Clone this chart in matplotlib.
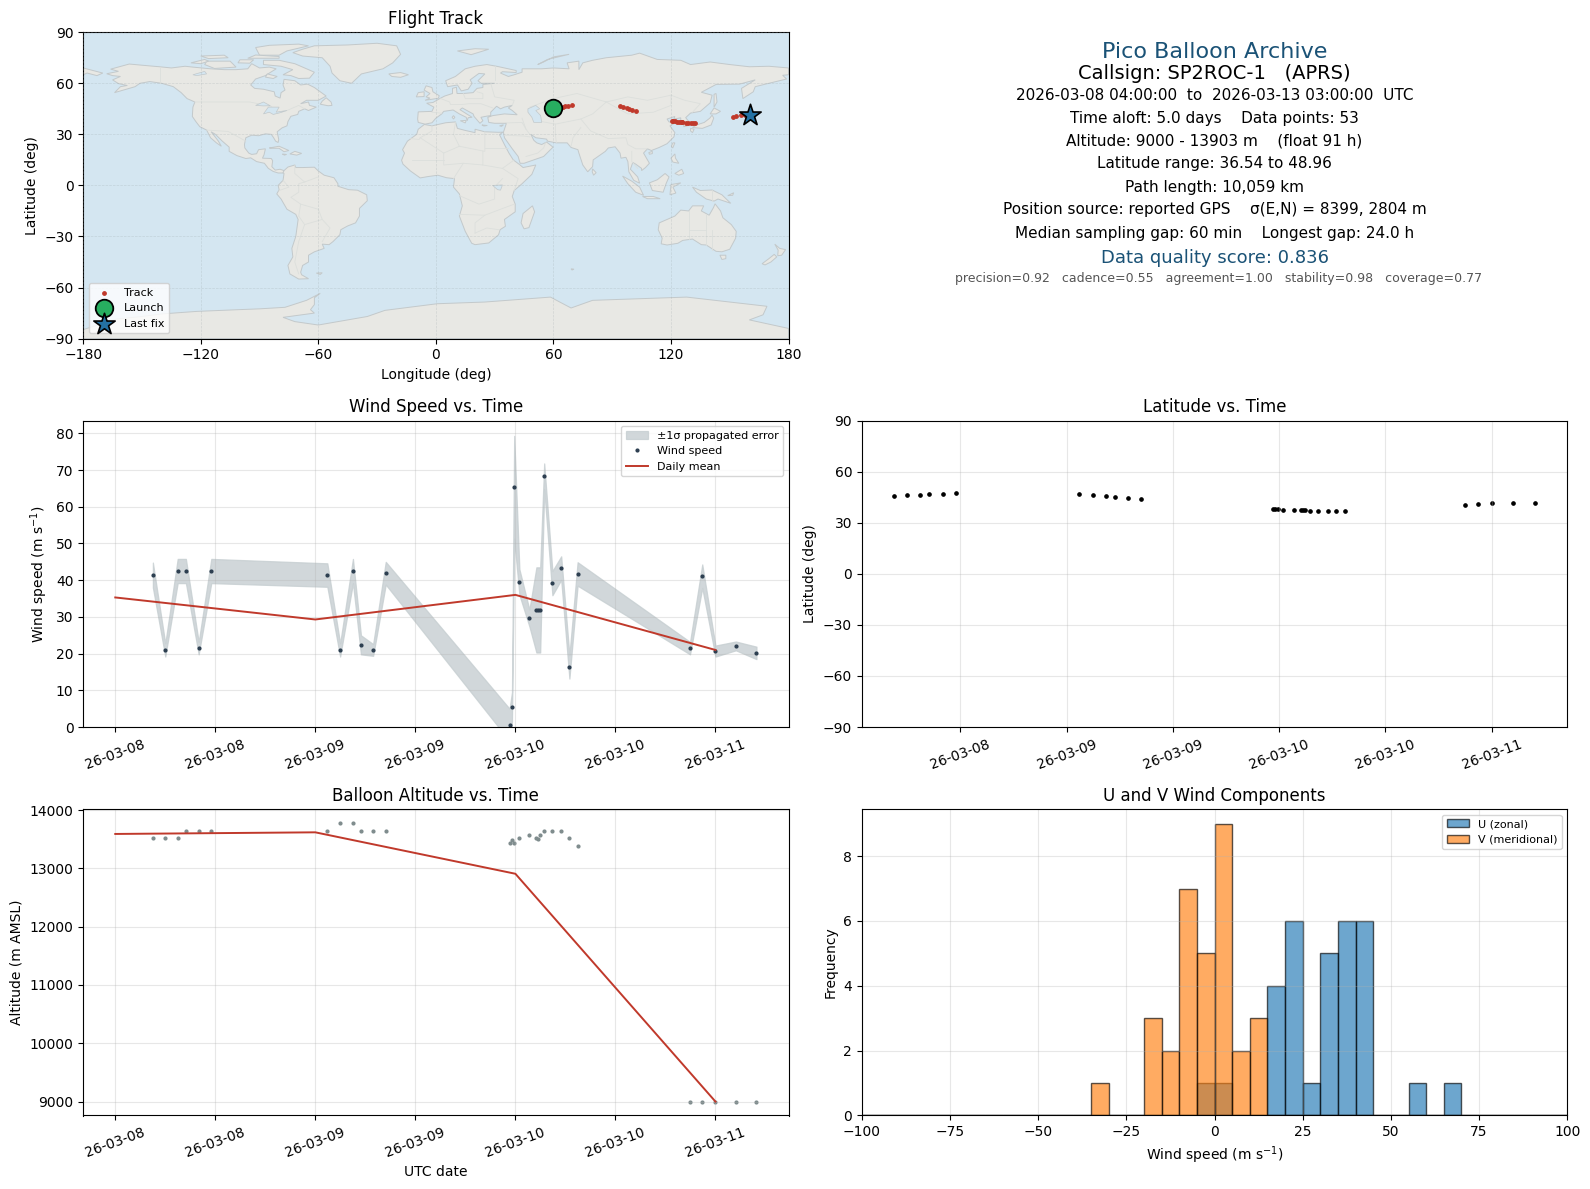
#!/usr/bin/env python3

import numpy as np
import pandas as pd
import matplotlib
matplotlib.use("Agg")
import matplotlib.pyplot as plt
import matplotlib.dates as mdates

START = pd.Timestamp("2026-03-08")

# days since START, one entry per fix
TIME_DAYS = [0.188, 0.25, 0.312, 0.353, 0.417, 0.48,
             1.06, 1.124, 1.188, 1.228, 1.289, 1.352,
             1.971, 1.983, 1.994, 2.02, 2.07, 2.105, 2.115, 2.124, 2.144, 2.185, 2.229, 2.27, 2.311,
             2.873, 2.934, 3.0, 3.102, 3.205]
WIND_SPEED = [41.4, 21.0, 42.5, 42.5, 21.5, 42.5,
              41.4, 21.0, 42.5, 22.4, 21.0, 41.9,
              0.6, 5.5, 65.3, 39.5, 29.7, 31.9, 31.9, 31.9, 68.3, 39.2, 43.3, 16.4, 41.7,
              21.5, 41.1, 20.7, 22.1, 20.2]
WIND_SIGMA = [3.4, 1.8, 3.3, 3.3, 1.7, 3.3,
              3.2, 1.8, 3.3, 2.6, 1.6, 3.1,
              4.4, 4.0, 14.0, 3.5, 2.3, 11.6, 11.6, 11.6, 3.5, 3.3, 3.2, 3.2, 3.2,
              1.7, 3.2, 1.5, 1.2, 1.7]
LATITUDE = [45.5, 46.1, 46.1, 46.7, 46.7, 47.3,
            46.7, 46.1, 45.5, 44.9, 44.3, 43.8,
            37.9, 37.9, 37.9, 37.3, 37.3, 37.3, 37.3, 37.3, 36.7, 36.7, 36.7, 36.7, 36.7,
            40.2, 40.8, 41.4, 41.4, 41.4]
LONGITUDE = [60.0, 62.4, 65.1, 66.1, 67.6, 69.5,
             94.0, 95.4, 97.8, 98.8, 100.3, 101.9,
             120.3, 121.0, 122.0, 123.3, 124.3, 125.0, 125.4, 125.7, 127.9, 128.9, 130.1, 131.1, 132.2,
             151.9, 153.1, 155.7, 157.7, 160.4]
ALTITUDE = [13522, 13522, 13522, 13642, 13642, 13642,
            13642, 13779, 13779, 13642, 13642, 13642,
            13437, 13488, 13437, 13522, 13574, 13522, 13505, 13574, 13642, 13642, 13642, 13522, 13385,
            9000, 9000, 9000, 9000, 9000]

DAILY_DAYS = [0, 1, 2, 3]
DAILY_WIND = [35.3, 29.3, 36.0, 21.0]
DAILY_ALT = [13591, 13619, 12908, 9000]

HIST_EDGES = list(range(-100, 105, 5))
U_BINS = {-5: 1, 0: 1, 15: 4, 20: 6, 25: 1, 30: 5, 35: 6, 40: 6, 55: 1, 65: 1}
V_BINS = {-35: 1, -20: 3, -15: 2, -10: 7, -5: 5, 0: 9, 5: 2, 10: 3}

INFO_LINES = [
    "2026-03-08 04:00:00  to  2026-03-13 03:00:00  UTC",
    "Time aloft: 5.0 days    Data points: 53",
    "Altitude: 9000 - 13903 m    (float 91 h)",
    "Latitude range: 36.54 to 48.96",
    "Path length: 10,059 km",
    "Position source: reported GPS    \u03c3(E,N) = 8399, 2804 m",
    "Median sampling gap: 60 min    Longest gap: 24.0 h",
]
INFO_Y = [0.794, 0.718, 0.645, 0.570, 0.494, 0.420, 0.344]

# coarse coastlines, lon/lat
LAND = [
    # north america
    [(-168, 65.6), (-162, 67), (-166, 68.3), (-156.5, 71.3), (-148, 70.4), (-141, 69.7), (-135, 69), (-128, 70),
     (-124, 69.5), (-115, 68.5), (-108, 68), (-102, 68), (-96, 68.5), (-94, 71.5), (-90, 69), (-85, 69.5),
     (-81.5, 68.5), (-85, 66), (-87, 64.5), (-92, 62.5), (-94.5, 59), (-92.5, 57), (-88, 56.5), (-82.5, 55),
     (-82, 52.5), (-79.5, 51.3), (-79, 54.5), (-77, 56), (-78, 59), (-77.5, 62.3), (-72, 61.5), (-69, 59),
     (-65.5, 59.5), (-62, 57.5), (-59, 55), (-56, 52.5), (-60, 50), (-66, 50), (-69, 48), (-65, 49), (-64.5, 47),
     (-61, 46), (-65, 44), (-67, 45), (-70, 43.5), (-70.5, 41.7), (-74, 40.6), (-75.5, 37.5), (-76, 35),
     (-78.5, 33.8), (-81, 31.5), (-80.2, 27), (-80.5, 25.2), (-81.8, 26), (-82.8, 28), (-84, 30), (-87, 30.3),
     (-89.5, 29.5), (-90.5, 29.2), (-94, 29.5), (-97, 28), (-97.7, 24), (-97.5, 22), (-95.5, 19), (-94, 18.2),
     (-91.5, 18.6), (-90.5, 21), (-87, 21.5), (-87.7, 18), (-88.5, 16), (-84, 15.8), (-83.3, 14.5), (-83.7, 11),
     (-82, 9), (-79.5, 9.5), (-77.5, 8.7), (-78, 7.3), (-80.5, 7.3), (-83, 8.2), (-85.5, 10), (-87.5, 13),
     (-91.5, 14), (-94.5, 16.2), (-97, 15.8), (-101.5, 17.5), (-105.5, 20), (-105.5, 22.5), (-109, 26),
     (-112.5, 30), (-114.7, 31.5), (-113, 29), (-111, 26), (-109.5, 23), (-112, 25), (-115, 28), (-117, 32.5),
     (-120.5, 34.5), (-122.5, 37.5), (-124.3, 40.5), (-124, 46), (-123, 49), (-127, 51), (-130, 54.5),
     (-134, 58), (-140, 60), (-146, 61), (-151, 60), (-153.5, 58), (-158, 56.5), (-164, 54.5), (-161, 58),
     (-157.5, 58.7), (-162, 59.8), (-165, 62), (-161, 64), (-165, 64.5)],
    # greenland
    [(-73, 78), (-68, 80), (-62, 82), (-45, 82.5), (-30, 83.5), (-20, 82), (-18, 77), (-22, 72), (-27, 68.5),
     (-38, 65.5), (-43, 60), (-49, 61.5), (-53, 66), (-54, 70), (-58, 75), (-68, 76)],
    # arctic canada
    [(-80, 73.5), (-72, 71.5), (-67, 69), (-62, 66.5), (-64.5, 63), (-70, 62.8), (-74, 64.5), (-78, 65), (-73, 68),
     (-79, 70), (-88, 71), (-88, 73.5)],
    [(-90, 76.5), (-80, 76.5), (-76, 79), (-65, 82), (-70, 83), (-85, 82.3), (-92, 81)],
    [(-117, 73), (-105, 73), (-102, 69.5), (-113, 68.7), (-118, 71)],
    [(-125, 72), (-118, 74), (-116, 73), (-120, 71.5)],
    [(-96, 74.7), (-80, 74.7), (-80, 75.7), (-92, 76.6)],
    [(-100, 73.8), (-93, 73.8), (-95, 71.8), (-101, 72)],
    [(-120, 76), (-108, 76.5), (-106, 75), (-116, 74.5)],
    [(-86, 65.5), (-81, 64), (-83, 62.8), (-87, 63.6)],
    # newfoundland, caribbean
    [(-59, 47.7), (-55, 46.8), (-53, 47), (-53.5, 49), (-56, 51.5), (-58, 49.5)],
    [(-85, 22), (-80, 23), (-75, 20.5), (-77.5, 19.8), (-80, 21.8), (-84, 21.8)],
    [(-74.5, 18.5), (-72, 20), (-68.5, 18.8), (-71, 17.8)],
    [(-78.3, 18.4), (-76.3, 18.2), (-77.3, 17.8)],
    # south america
    [(-77.5, 8.7), (-75.5, 10.8), (-72, 12), (-71.5, 10.5), (-68, 10.5), (-62, 10.7), (-60, 8.5), (-57, 6),
     (-52, 4.5), (-50, 1), (-50, -0.5), (-44.5, -2.5), (-40, -2.8), (-35.3, -5.5), (-35, -9), (-39, -13.5),
     (-39, -18), (-41, -22), (-45, -23.8), (-48.5, -26), (-49, -29), (-52.5, -33), (-54.5, -34.8), (-58, -34.5),
     (-57, -37), (-62, -39), (-65, -41), (-65, -45), (-68, -47), (-69, -51), (-68.5, -52.5), (-65, -54.8),
     (-70, -55), (-74.5, -52), (-75.5, -47), (-73, -42), (-73.5, -37), (-71.5, -30), (-70.3, -20), (-71.5, -17),
     (-76, -14), (-79, -8), (-81.2, -5), (-80, -2.5), (-80.5, 0), (-78, 3), (-77.5, 7), (-78, 7.3)],
    # africa
    [(-5.9, 35.8), (-2, 35), (5, 36.8), (10, 37.3), (11, 33.5), (15, 32.3), (20, 31), (20, 33), (25, 31.5),
     (32, 31.2), (34.2, 31.3), (32.5, 29.8), (35, 24), (37.3, 19), (39.5, 15), (43, 12), (44.5, 10.5), (51, 12),
     (49, 6.5), (44, 1), (40, -3), (39, -6.5), (40.5, -11), (40.5, -15.5), (35, -20), (35.5, -24), (32.8, -26),
     (32, -29), (27, -33.8), (20, -34.8), (18.3, -34), (15, -27), (12, -18), (13.5, -12), (12, -5), (9, -1),
     (9.5, 4), (5.5, 4.5), (1, 6), (-4, 5.2), (-8, 4.4), (-13, 8.5), (-16.8, 12.5), (-17.5, 14.8), (-16, 19),
     (-17, 21), (-14.5, 26), (-9.8, 30), (-9, 33)],
    [(49.3, -12), (50.4, -15.5), (47.5, -24.8), (45, -25.5), (43.5, -22), (44.5, -16.5)],
    # eurasia
    [(-5.5, 36), (-9, 37), (-9.3, 39), (-9, 43.2), (-2, 43.5), (-1, 46), (-4.7, 48.3), (-1.5, 48.7), (2, 51),
     (4.5, 52.5), (8.5, 54), (8.5, 57), (10.5, 57.7), (10.8, 54), (14, 54), (19, 54.5), (21, 57), (24, 57.5),
     (24, 59.3), (30, 60), (23, 60), (21.5, 61.5), (25, 65.5), (22, 65.8), (17.5, 62), (18.5, 60), (16.5, 56.5),
     (13, 55.5), (11, 59), (6, 58), (5, 61.5), (10, 64), (15, 68.5), (20, 70), (26, 71), (31, 70), (41, 67.5),
     (41, 66.3), (34, 66.8), (33, 66), (37, 64), (40, 65), (44, 66.5), (44, 68.5), (54, 68.5), (60, 69), (68, 68.5),
     (67, 72), (73, 73), (73, 68), (75, 72), (80, 73.5), (87, 75), (100, 76.5), (104, 77.7), (113, 74), (125, 73.5),
     (130, 71), (140, 72.5), (150, 71), (160, 69.7), (170, 70), (180, 69), (180, 65), (177, 64.7), (179, 62.5),
     (170, 60), (163, 58), (162, 55), (156.7, 51), (156, 57), (163, 62), (155, 59.5), (143, 59.3), (135.5, 54.7),
     (141, 53), (140, 48.5), (135, 43.5), (130, 42.5), (127.5, 39.8), (129.5, 37), (129, 35.2), (126.5, 34.5),
     (126.5, 37), (125, 38), (125, 39.7), (121.5, 39), (122, 40.5), (118, 39), (119, 37.3), (122.5, 37),
     (119.5, 35), (122, 31), (121.5, 28.5), (118, 24.5), (114, 22.3), (110, 20.5), (108, 21.5), (106, 19), (109, 13),
     (107, 10.5), (105, 8.7), (105, 10), (102, 12.5), (100.5, 13.5), (99.3, 9.5), (103, 5), (104, 1.3), (101, 3),
     (98.5, 8), (98, 14), (97, 16.5), (94.5, 16), (94, 19), (91.5, 22.7), (88, 22), (86.5, 20), (80.3, 15), (80, 11),
     (77.5, 8), (75, 12), (73, 19), (72.5, 21), (69, 22.3), (67, 25), (61.5, 25), (57, 26), (56.5, 27.2), (51, 28),
     (48.5, 30), (50, 26.5), (51.5, 25), (54, 24), (56.5, 25.5), (59.8, 22.5), (55, 17), (45, 13), (43, 13), (42, 17),
     (39, 21.5), (35, 28), (34.5, 31.3), (35, 33), (36, 36.5), (30, 36.5), (27, 37), (26.5, 40), (29, 41), (35, 42),
     (41.5, 41.5), (39, 44), (37, 45.5), (39, 47), (35, 46), (33, 45), (31, 46.5), (28, 43), (28, 41), (26, 40.7),
     (23, 40), (24, 38), (22.5, 36.5), (19.5, 40.5), (19, 42), (13.5, 45.5), (12.3, 44.5), (16, 41.8), (18.5, 40),
     (16.5, 39.8), (16, 38), (15.5, 40), (12, 42), (8.8, 44.3), (4, 43.5), (3, 42), (0, 39.5), (-2, 36.8)],
    [(-180, 69), (-175, 67.5), (-170, 66), (-173, 64.5), (-178, 66), (-180, 65)],
    # european islands
    [(-5.5, 50), (1.3, 51.2), (1.7, 52.7), (-1.5, 55), (-2, 57.5), (-5, 58.5), (-6, 56), (-3, 54), (-5, 52), (-3, 51.3)],
    [(-10, 52), (-6, 52.2), (-6, 55), (-9, 54.5)],
    [(-24, 65.5), (-18, 66.3), (-14, 65), (-18, 63.5), (-22.5, 64)],
    [(11, 79), (20, 80.3), (27, 80), (18, 76.8)],
    [(52, 71), (57, 74), (68, 77), (60, 75.5), (55, 72.5)],
    [(9, 41), (9.7, 40), (9, 39), (8.3, 40)],
    [(12.5, 38), (15.5, 38.2), (15, 36.7)],
    [(23.5, 35.5), (26.2, 35.2), (24.5, 34.9)],
    [(32.5, 35), (34.5, 35.6), (33.5, 34.7)],
    # east asian and pacific islands
    [(131, 34), (136, 33.5), (140.5, 35.5), (141.8, 39.5), (141, 41.3), (139.8, 39.5), (137, 37), (133, 35.5)],
    [(140, 42), (143, 42), (145.3, 43.5), (142, 45.5)],
    [(130, 33.5), (131.8, 33), (131, 31), (130, 32)],
    [(142, 46), (143.5, 49), (143, 54), (142, 53.5), (142, 49)],
    [(120.2, 23), (121, 25), (122, 25), (120.9, 22)],
    [(108.7, 19.3), (110.5, 20), (110.5, 18.7), (109, 18.3)],
    [(120, 16), (122, 18.5), (122.3, 16), (124, 13), (121, 13.7)],
    [(122, 7), (125.5, 9.5), (126.5, 7), (124, 6)],
    [(109, 1.5), (113, 3.3), (117, 7), (119, 5), (117.5, 1), (116, -4), (110.5, -3)],
    [(95.3, 5.5), (100, 2.5), (104, -1), (106, -5.8), (102, -4), (98, 1)],
    [(105.5, -6.5), (111, -6.5), (114.5, -7.8), (108, -7.8)],
    [(119.5, -5.5), (120, 0.5), (125, 1.5), (121, -1), (122.5, -4.5)],
    [(131, -1), (135, -3), (141, -2.7), (146, -5.5), (150.5, -10.5), (144, -8), (142, -9.2), (138, -8), (133, -4)],
    [(149, -6), (152, -4.3), (151.5, -5.8)],
    [(80, 9.7), (81.8, 7.5), (80.5, 6), (79.8, 8)],
    # australia and new zealand
    [(114, -22), (117, -20.5), (122, -18), (125, -14.5), (129, -15), (131, -12), (136.7, -12), (135.5, -15),
     (139.5, -17.5), (141.7, -13), (142.5, -10.8), (145.3, -15), (146.5, -19), (150.8, -23), (153.3, -27), (153, -31),
     (150, -37.5), (146, -39), (143, -38.7), (138, -35), (135.5, -34.8), (131, -31.5), (126, -32.3), (123.5, -34),
     (118, -35), (115, -34.3), (115.5, -31), (113.5, -26)],
    [(145, -41), (148, -41), (148, -43), (146, -43.5)],
    [(173, -34.5), (175.5, -37), (178.5, -37.7), (176.5, -41), (174.5, -41.3), (174.7, -38)],
    [(172.7, -40.5), (174, -42), (171, -45), (168, -46.7), (166.5, -46), (170, -43)],
    [(-61, -51.5), (-58, -51.3), (-59, -52.3)],
    [(69, -49), (70.5, -49.2), (69.5, -49.7)],
    # antarctica
    [(-180, -84.7), (-163, -78.5), (-150, -77), (-140, -75.5), (-122, -74), (-101, -73), (-90, -72.5), (-77, -71.6),
     (-66, -67.5), (-59, -63.4), (-62, -66), (-62, -70), (-64, -73), (-62, -75), (-78, -77.5), (-72, -80), (-60, -82),
     (-35, -77), (-26, -73.4), (0.7, -69.5), (25, -68.5), (58.5, -65.6), (69, -72), (80, -67.5), (128, -65.6),
     (169, -71), (167, -76), (160, -79), (180, -84), (180, -90), (-180, -90)],
]
LAKES = [
    [(47, 45), (51, 47), (53, 45), (51, 44), (53.5, 41), (54, 37), (50, 37), (49, 40), (47, 43)],
    [(-92, 47), (-88, 49), (-84.5, 46.8), (-88, 46.7)],
    [(-88, 42), (-85.5, 46), (-80, 46), (-81.5, 43), (-79, 43.5), (-76, 44), (-79.5, 42.7), (-83, 41.7), (-85, 43)],
    [(-124, 65), (-118, 67), (-117, 65.5), (-122, 64.5)],
    [(58.5, 46.5), (61.5, 46.5), (60, 44)],
    [(29, 0), (34, 0.3), (33, -2.8), (31.5, -2.5)],
]
BORDERS = [
    [(-141, 69.7), (-141, 60)],
    [(-123, 49), (-95, 49), (-84, 46.5), (-82.5, 42), (-76, 44), (-70, 47), (-67, 45)],
    [(-117, 32.5), (-106, 31.7), (-97, 26)],
    [(-70, -18), (-69, -11), (-74, -7), (-70, -4), (-70, 1), (-67, 2), (-60, 5)],
    [(-58, -20), (-54, -25), (-58, -33)],
    [(-70, -18), (-67, -23), (-70, -33), (-72, -45), (-70, -52)],
    [(-67, -23), (-58, -20), (-60, -14), (-69, -11)],
    [(-72, 12), (-72, 7), (-67, 2)],
    [(-80, -3), (-75, -1), (-78, 3)],
    [(-2, 35), (-2, 32), (-8, 28), (-8.5, 27), (-13, 27.5)],
    [(-8, 28), (4, 19), (12, 23), (25, 20), (25, 31.5)],
    [(10, 37), (9, 30), (12, 23)],
    [(25, 22), (37, 22)],
    [(4, 19), (4, 12), (14, 13), (24, 12), (24, 20)],
    [(-12, 15), (-5, 15), (4, 15)],
    [(14, 13), (9, 4)],
    [(24, 12), (34, 10), (40, 15)],
    [(34, 10), (42, 4), (40, -3)],
    [(34, 4), (30, -1), (30, -8), (22, -11), (12, -6)],
    [(12, -17), (25, -17.5), (33, -14), (40, -11)],
    [(20, -28), (20, -22), (25, -17.5)],
    [(20, -28), (26, -25), (32, -26)],
    [(-2, 43), (3, 42.4)],
    [(2.5, 51), (7, 49), (7.5, 47.5), (13, 47.5), (17, 48), (23, 48), (29, 45.5)],
    [(14, 54), (15, 51), (24, 51), (24, 54), (21, 55)],
    [(28, 60), (30, 52), (40, 50), (39, 47)],
    [(30, 70), (30, 62)],
    [(48, 46), (60, 51), (72, 54), (87, 49), (98, 52), (108, 50), (120, 53), (127, 50), (135, 48), (131, 43)],
    [(87, 49), (80, 42), (74, 39), (61, 36), (54, 37.5)],
    [(87, 49), (98, 42), (111, 43), (120, 47), (120, 53)],
    [(74, 39), (79, 32), (88, 27.5), (97, 28), (98, 24), (102, 21.5), (108, 21.5)],
    [(61, 36), (61, 30), (61.5, 25)],
    [(74, 34), (70, 28), (69, 23)],
    [(44, 39.5), (46, 33), (48, 30)],
    [(36, 36.7), (44, 37), (46, 33)],
    [(35, 29.5), (45, 29), (48, 28.5)],
    [(46, 17), (52, 19), (55, 22), (56, 25)],
    [(100, 20), (100, 14), (103, 10)],
    [(129, -15), (129, -31.5)],
    [(138, -26), (129, -26)],
    [(138, -16.5), (138, -35)],
    [(141, -26), (141, -38)],
    [(141, -2.7), (141, -9)],
]

SEA_COLOR = "#d4e6f1"
LAND_COLOR = "#e8e8e4"
COAST_COLOR = "#c3c9cb"
BORDER_COLOR = "#dcdfdc"
RED = "#c0392b"
NAVY = "#2c3e50"
GREY = "#7f8c8d"
BAND = "#c6ced1"
TITLE_BLUE = "#1a5276"


def to_dates(days):
    return START + pd.to_timedelta(np.array(days), unit="D")


def bin_counts(bins):
    """Expand a {left edge: count} table into per-bin counts for ax.hist"""
    return [bins.get(left, 0) for left in HIST_EDGES[:-1]]


def date_axis(ax):
    ax.xaxis.set_major_locator(mdates.HourLocator(byhour=[0, 12]))
    ax.xaxis.set_major_formatter(mdates.DateFormatter("%y-%m-%d"))
    ax.tick_params(axis="x", rotation=20)
    ax.grid(True, alpha=0.3)


def draw_map(ax):
    ax.set_facecolor(SEA_COLOR)
    for poly in LAND:
        lon, lat = zip(*poly)
        ax.fill(lon, lat, facecolor=LAND_COLOR, edgecolor=COAST_COLOR, linewidth=0.7, zorder=1)
    for poly in LAKES:
        lon, lat = zip(*poly)
        ax.fill(lon, lat, facecolor=SEA_COLOR, edgecolor=COAST_COLOR, linewidth=0.5, zorder=1.2)
    for line in BORDERS:
        lon, lat = zip(*line)
        ax.plot(lon, lat, color=BORDER_COLOR, linewidth=0.6, zorder=1.1)


def main():
    times = to_dates(TIME_DAYS)
    daily = to_dates(DAILY_DAYS)
    wind = np.array(WIND_SPEED)
    sigma = np.array(WIND_SIGMA)

    fig, axes = plt.subplots(3, 2, figsize=(15.9, 11.89), dpi=100)
    fig.subplots_adjust(left=83.2 / 1590, right=1567.2 / 1590, top=1 - 32.2 / 1189, bottom=1 - 1115.5 / 1189,
                        wspace=0.104, hspace=0.2676)

    # flight track
    ax = axes[0, 0]
    draw_map(ax)
    ax.scatter(LONGITUDE, LATITUDE, s=6, color=RED, label="Track", zorder=3)
    ax.scatter(LONGITUDE[0], LATITUDE[0], s=160, color="#27ae60", edgecolor="black", linewidth=1.3,
               label="Launch", zorder=4)
    ax.scatter(LONGITUDE[-1], LATITUDE[-1], s=260, marker="*", color="#2471a3", edgecolor="black", linewidth=1.2,
               label="Last fix", zorder=4)
    ax.set_xlim(-180, 180)
    ax.set_ylim(-90, 90)
    ax.set_xticks(range(-180, 181, 60))
    ax.set_yticks(range(-90, 91, 30))
    ax.grid(True, color="#9aa5a8", alpha=0.3, linestyle="--", linewidth=0.5, zorder=2)
    ax.set_axisbelow(False)
    ax.set_title("Flight Track")
    ax.set_xlabel("Longitude (deg)")
    ax.set_ylabel("Latitude (deg)")
    ax.legend(loc="lower left", fontsize=8)

    # summary text
    ax = axes[0, 1]
    ax.axis("off")
    ax.text(0.5, 0.936, "Pico Balloon Archive", ha="center", va="center", fontsize=16, color=TITLE_BLUE,
            transform=ax.transAxes)
    ax.text(0.5, 0.864, "Callsign: SP2ROC-1   (APRS)", ha="center", va="center", fontsize=14, transform=ax.transAxes)
    for line, y in zip(INFO_LINES, INFO_Y):
        ax.text(0.5, y, line, ha="center", va="center", fontsize=11, transform=ax.transAxes)
    ax.text(0.5, 0.263, "Data quality score: 0.836", ha="center", va="center", fontsize=13, color=TITLE_BLUE,
            transform=ax.transAxes)
    ax.text(0.5058, 0.197, "precision=0.92   cadence=0.55   agreement=1.00   stability=0.98   coverage=0.77",
            ha="center", va="center", fontsize=9, color="#555555", transform=ax.transAxes)

    # wind speed
    ax = axes[1, 0]
    ax.fill_between(times, wind - sigma, wind + sigma, facecolor=BAND, edgecolor=BAND, linewidth=0.9, alpha=0.8,
                    label="\u00b11\u03c3 propagated error")
    ax.plot(times, wind, linestyle="none", marker="o", markersize=2, color=NAVY, label="Wind speed")
    ax.plot(daily, DAILY_WIND, color=RED, linewidth=1.4, label="Daily mean")
    ax.set_ylim(bottom=0)
    date_axis(ax)
    ax.set_title("Wind Speed vs. Time")
    ax.set_ylabel("Wind speed (m s$^{-1}$)")
    ax.legend(loc="upper right", fontsize=8)

    # latitude
    ax = axes[1, 1]
    ax.scatter(times, LATITUDE, s=5.5, color="black")
    ax.set_ylim(-90, 90)
    ax.set_yticks(range(-90, 91, 30))
    date_axis(ax)
    ax.set_title("Latitude vs. Time")
    ax.set_ylabel("Latitude (deg)")

    # altitude
    ax = axes[2, 0]
    ax.scatter(times, ALTITUDE, s=4, color=GREY)
    ax.plot(daily, DAILY_ALT, color=RED, linewidth=1.4)
    date_axis(ax)
    ax.set_title("Balloon Altitude vs. Time")
    ax.set_xlabel("UTC date")
    ax.set_ylabel("Altitude (m AMSL)")

    # u and v histogram
    ax = axes[2, 1]
    centers = [left + 2.5 for left in HIST_EDGES[:-1]]
    ax.hist(centers, bins=HIST_EDGES, weights=bin_counts(U_BINS), color="#1f77b4", edgecolor="black", alpha=0.65,
            label="U (zonal)")
    ax.hist(centers, bins=HIST_EDGES, weights=bin_counts(V_BINS), color="#ff7f0e", edgecolor="black", alpha=0.65,
            label="V (meridional)")
    ax.set_xlim(-100, 100)
    ax.grid(True, alpha=0.3)
    ax.set_title("U and V Wind Components")
    ax.set_xlabel("Wind speed (m s$^{-1}$)")
    ax.set_ylabel("Frequency")
    ax.legend(loc="upper right", fontsize=8)

    fig.savefig("out.png", dpi=100)


if __name__ == "__main__":
    main()
